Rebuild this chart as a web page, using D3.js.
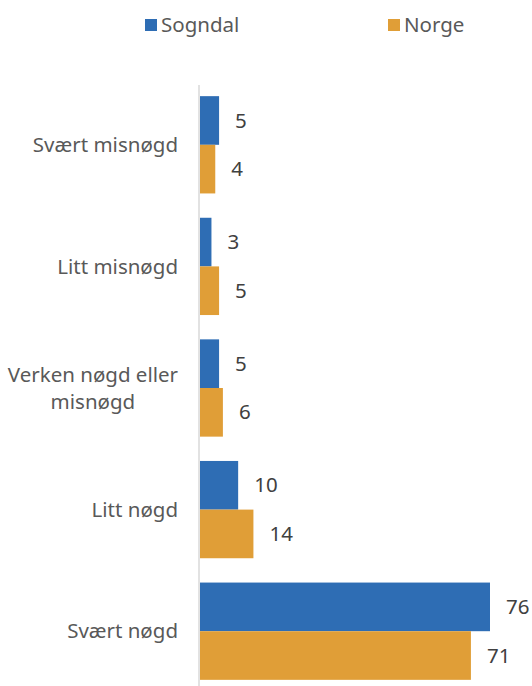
<!DOCTYPE html>
<html>
<head>
<meta charset="utf-8">
<script src="https://cdn.jsdelivr.net/npm/d3@7"></script>
<style>
    body { margin: 0; background: #fff; }
    svg { display: block; font-family: "Noto Sans", sans-serif; }
</style>
</head>
<body>
<div id="chart"></div>
<script>
// Data
var categories = ["Svært misnøgd", "Litt misnøgd", "Verken nøgd eller misnøgd", "Litt nøgd", "Svært nøgd"];
var seriesNames = ["Sogndal", "Norge"];
var sogndal = [5, 3, 5, 10, 76];
var norge = [4, 5, 6, 14, 71];
var colors = ["#2E6DB4", "#E09E37"];

var width = 532, height = 686;
var fontSize = "20.5px";

var rows = categories.map(function (c, i) {
    return { category: c, values: [sogndal[i], norge[i]] };
});

var svg = d3.select("#chart").append("svg")
    .attr("width", width)
    .attr("height", height);

var x = d3.scaleLinear().domain([0, 76]).range([200, 490]);
var y0 = d3.scaleBand().domain(categories).range([84, 692]).paddingInner(0.2).paddingOuter(0.1);
var y1 = d3.scaleBand().domain(seriesNames).range([0, y0.bandwidth()]);

// Bars
var groups = svg.selectAll(".group").data(rows).enter()
    .append("g")
    .attr("class", "group")
    .attr("transform", function (d) { return "translate(0," + y0(d.category) + ")"; });

groups.selectAll("rect")
    .data(function (d) { return d.values.map(function (v, i) { return { name: seriesNames[i], value: v, i: i }; }); })
    .enter().append("rect")
    .attr("x", x(0))
    .attr("y", function (d) { return y1(d.name); })
    .attr("width", function (d) { return x(d.value) - x(0); })
    .attr("height", y1.bandwidth())
    .attr("fill", function (d) { return colors[d.i]; });

groups.selectAll(".val")
    .data(function (d) { return d.values.map(function (v, i) { return { name: seriesNames[i], value: v }; }); })
    .enter().append("text")
    .attr("class", "val")
    .attr("x", function (d) { return x(d.value) + 16; })
    .attr("y", function (d) { return y1(d.name) + y1.bandwidth() / 2; })
    .attr("dy", "0.35em")
    .attr("fill", "#404040")
    .style("font-size", fontSize)
    .text(function (d) { return d.value; });

// Axis line
svg.append("line")
    .attr("x1", x(0) - 1).attr("x2", x(0) - 1)
    .attr("y1", 85).attr("y2", height)
    .attr("stroke", "#d9d9d9")
    .attr("stroke-width", 1.5);

// Category labels (long one wraps, lines centred on each other)
var wrapped = {
    "Verken nøgd eller misnøgd": ["Verken nøgd eller", "misnøgd"]
};
categories.forEach(function (c) {
    var lines = wrapped[c] || [c];
    var cy = y0(c) + y0.bandwidth() / 2;
    var t = svg.append("text")
        .attr("fill", "#595959")
        .style("font-size", fontSize);
    var spans = lines.map(function (l, k) {
        return t.append("tspan")
            .attr("y", cy + (k - (lines.length - 1) / 2) * 27)
            .attr("dy", "0.35em")
            .text(l);
    });
    var widest = d3.max(spans, function (s) { return s.node().getComputedTextLength(); });
    t.attr("text-anchor", "middle");
    spans.forEach(function (s) { s.attr("x", 178 - widest / 2); });
});

// Legend
var legendX = [145, 388];
var legend = svg.selectAll(".legend").data(seriesNames).enter()
    .append("g")
    .attr("class", "legend")
    .attr("transform", function (d, i) { return "translate(" + legendX[i] + ",19)"; });
legend.append("rect")
    .attr("width", 12).attr("height", 12)
    .attr("fill", function (d, i) { return colors[i]; });
legend.append("text")
    .attr("x", 16).attr("y", 6)
    .attr("dy", "0.35em")
    .attr("fill", "#595959")
    .style("font-size", fontSize)
    .text(function (d) { return d; });
</script>
</body>
</html>
